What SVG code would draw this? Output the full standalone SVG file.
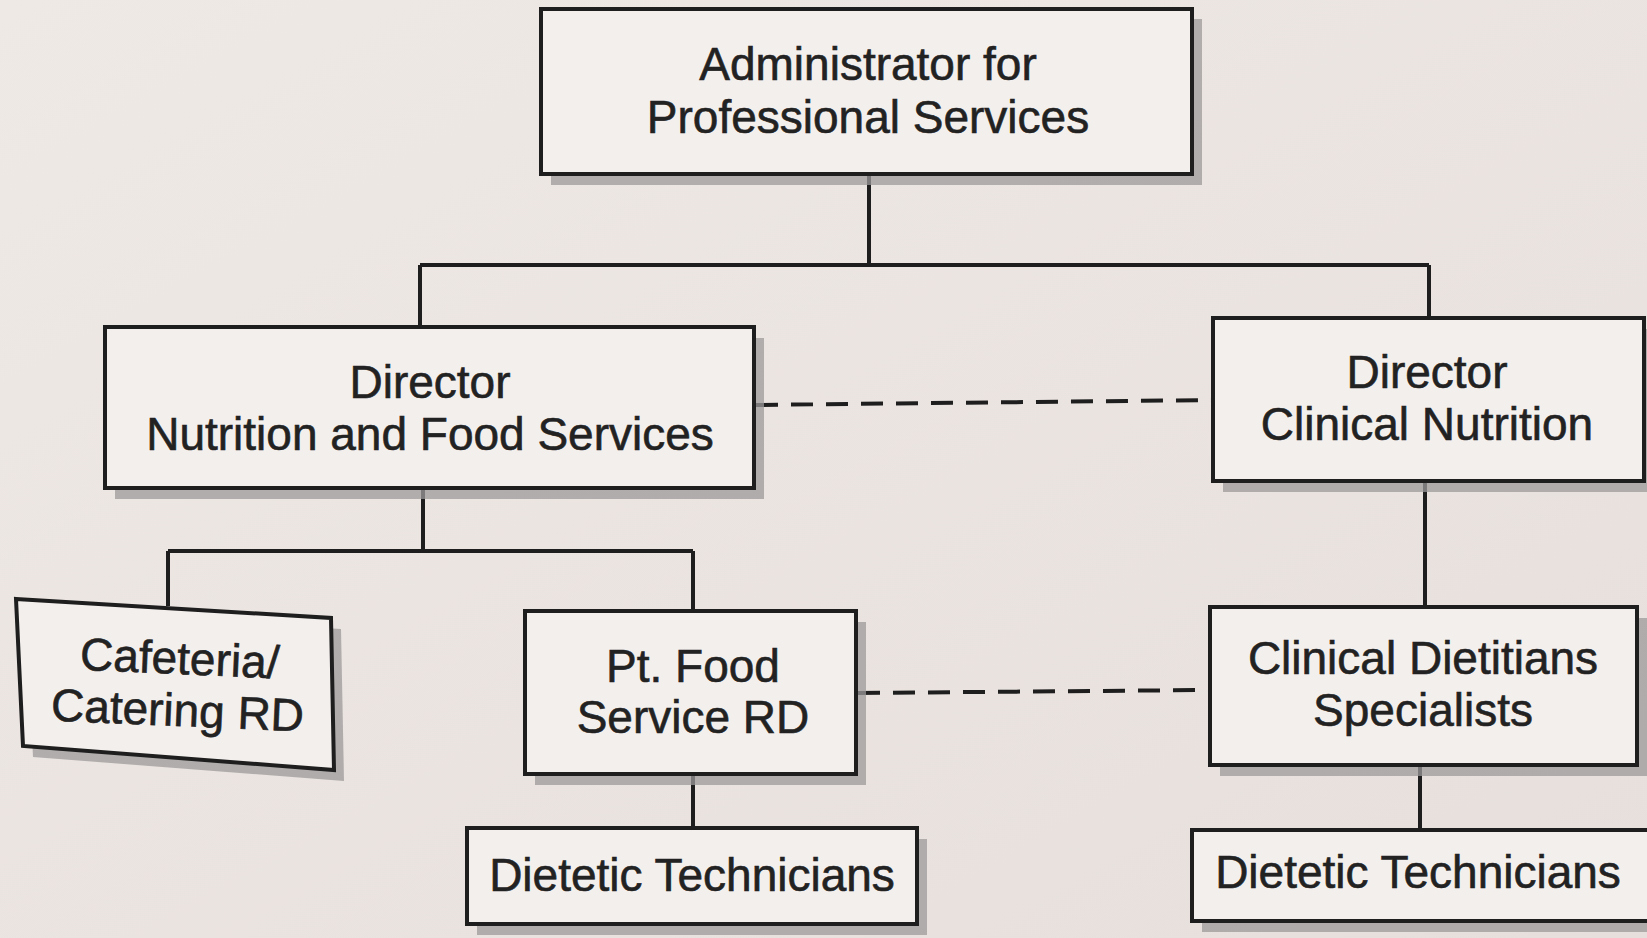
<svg xmlns="http://www.w3.org/2000/svg" width="1647" height="938" viewBox="0 0 1647 938">
<defs>
<linearGradient id="bg" x1="0" y1="0" x2="1" y2="1">
<stop offset="0" stop-color="#efe9e6"/>
<stop offset="1" stop-color="#e6dfdc"/>
</linearGradient>
</defs>
<style>
.box{fill:#f3efed;stroke:#1e1e1e;stroke-width:4}
.sh{fill:#9c9a99;opacity:0.75}
.t{font-family:"Liberation Sans",Arial,sans-serif;font-size:46px;fill:#222;stroke:#222;stroke-width:0.6;text-anchor:middle}
.ln{stroke:#1e1e1e;stroke-width:4;fill:none}
.dash{stroke:#1e1e1e;stroke-width:4;fill:none;stroke-dasharray:22 13}
</style>
<rect width="1647" height="938" fill="url(#bg)"/>
<g id="connectors">
<path class="ln" d="M869 174 V265 M420 265 H1429 M420 265 V327 M1429 265 V318"/>
<path class="ln" d="M423 488 V551 M168 551 H693 M168 551 V606 M693 551 V611"/>
<path class="ln" d="M1425 481 V607"/>
<path class="ln" d="M1420 765 V830"/>
<path class="ln" d="M693 774 V828"/>
<path class="dash" d="M756 405 L1212 400"/>
<path class="dash" d="M858 693 L1208 690"/>
</g>
<g id="admin">
<rect class="sh" x="551" y="19" width="651" height="166"/>
<rect class="box" x="541" y="9" width="651" height="165"/>
<text class="t" x="868" y="80">Administrator for</text>
<text class="t" x="868" y="133">Professional Services</text>
</g>
<g id="dir-nfs">
<rect class="sh" x="115" y="338" width="649" height="161"/>
<rect class="box" x="105" y="327" width="649" height="161"/>
<text class="t" x="430" y="398">Director</text>
<text class="t" x="430" y="450">Nutrition and Food Services</text>
</g>
<g id="dir-cn">
<rect class="sh" x="1223" y="329" width="424" height="163"/>
<rect class="box" x="1213" y="318" width="431" height="163"/>
<text class="t" x="1427" y="388">Director</text>
<text class="t" x="1427" y="440">Clinical Nutrition</text>
</g>
<g id="cafeteria">
<polygon class="sh" points="26,610 341,629 344,781 33,757"/>
<polygon class="box" points="16,599 331,618 334,770 23,746"/>
<g transform="rotate(2.5 178 700)">
<text class="t" x="178" y="674">Cafeteria/</text>
<text class="t" x="178" y="726">Catering RD</text>
</g>
</g>
<g id="ptfood">
<rect class="sh" x="535" y="622" width="331" height="163"/>
<rect class="box" x="525" y="611" width="331" height="163"/>
<text class="t" x="693" y="682">Pt. Food</text>
<text class="t" x="693" y="733">Service RD</text>
</g>
<g id="clin-diet">
<rect class="sh" x="1220" y="618" width="427" height="158"/>
<rect class="box" x="1210" y="607" width="427" height="158"/>
<text class="t" x="1423" y="674">Clinical Dietitians</text>
<text class="t" x="1423" y="726">Specialists</text>
</g>
<g id="tech-left">
<rect class="sh" x="477" y="839" width="450" height="96"/>
<rect class="box" x="467" y="828" width="450" height="96"/>
<text class="t" x="692" y="891">Dietetic Technicians</text>
</g>
<g id="tech-right">
<rect class="sh" x="1202" y="841" width="445" height="91"/>
<rect class="box" x="1192" y="830" width="460" height="91"/>
<text class="t" x="1418" y="888">Dietetic Technicians</text>
</g>
</svg>
